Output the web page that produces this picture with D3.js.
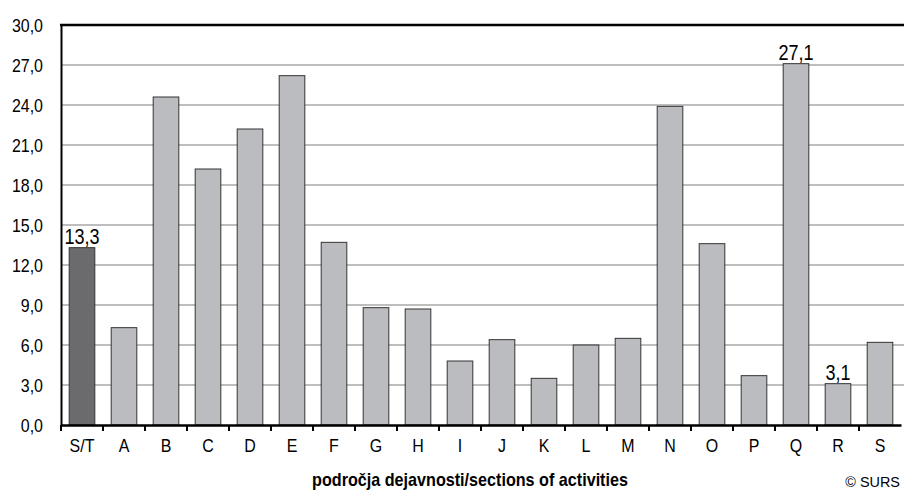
<!DOCTYPE html>
<html>
<head>
<meta charset="utf-8">
<script src="https://cdn.jsdelivr.net/npm/d3@7"></script>
<style>
  body { margin: 0; background: #fff; }
  svg { display: block; }
  text { font-family: "Liberation Sans", Arial, sans-serif; }
</style>
</head>
<body>
<svg id="chart" width="904" height="491"></svg>
<script>
const categories = ["S/T","A","B","C","D","E","F","G","H","I","J","K","L","M","N","O","P","Q","R","S"];
const values = [13.3, 7.3, 24.6, 19.2, 22.2, 26.2, 13.7, 8.8, 8.7, 4.8, 6.4, 3.5, 6.0, 6.5, 23.9, 13.6, 3.7, 27.1, 3.1, 6.2];
const labelled = ["S/T", "Q", "R"];
const yTicks = [0, 3, 6, 9, 12, 15, 18, 21, 24, 27, 30];
const xTitle = "področja dejavnosti/sections of activities";
const credit = "© SURS";

const svg = d3.select("#chart");
const margin = {left: 61, right: 3, top: 25, bottom: 66};
const W = 904, H = 491;
const x = d3.scaleBand().domain(categories).range([margin.left, W - margin.right]).paddingInner(0.39).paddingOuter(0.195);
const xTick = d3.scaleBand().domain(categories).range([margin.left, W - margin.right]);
const y = d3.scaleLinear().domain([0, 30]).range([H - margin.bottom, margin.top]);
const fmt = v => d3.format(".1f")(v).replace(".", ",");

function condense(sel, f) {
  sel.each(function() {
    const len = this.getComputedTextLength();
    d3.select(this).attr("textLength", len * f).attr("lengthAdjust", "spacingAndGlyphs");
  });
}

// gridlines
svg.append("g").selectAll("line").data(yTicks.filter(t => t > 0 && t < 30)).join("line")
  .attr("x1", margin.left).attr("x2", W)
  .attr("y1", d => y(d)).attr("y2", d => y(d))
  .attr("stroke", "#a9a9a9").attr("stroke-width", 1.5);

// top border
svg.append("line").attr("x1", margin.left - 1).attr("x2", W)
  .attr("y1", y(30)).attr("y2", y(30)).attr("stroke", "#000").attr("stroke-width", 2.5);

// bars
svg.append("g").selectAll("rect").data(categories).join("rect")
  .attr("x", d => x(d)).attr("width", x.bandwidth())
  .attr("y", (d, i) => y(values[i])).attr("height", (d, i) => y(0) - y(values[i]))
  .attr("fill", (d, i) => i === 0 ? "#6b6b6d" : "#bbbcc0")
  .attr("stroke", "#333").attr("stroke-width", 1);

// value labels
const vl = svg.append("g").selectAll("text").data(categories.filter(c => labelled.includes(c))).join("text")
  .attr("x", d => x(d) + x.bandwidth() / 2)
  .attr("y", d => y(values[categories.indexOf(d)]) - 4)
  .attr("text-anchor", "middle").attr("font-size", 22).attr("fill", "#000")
  .text(d => fmt(values[categories.indexOf(d)]));
condense(vl, 0.82);

// y axis
const yAxis = d3.axisLeft(y).tickValues(yTicks).tickFormat(fmt).tickSize(0).tickPadding(18);
const gy = svg.append("g").attr("transform", `translate(${margin.left},0)`).call(yAxis);
gy.select(".domain").attr("stroke", "#000").attr("stroke-width", 2);
gy.selectAll("text").attr("font-size", 19).attr("fill", "#000")
  .style("font-family", '"Liberation Sans", Arial, sans-serif');
condense(gy.selectAll("text"), 0.84);

// x axis
const xAxis = d3.axisBottom(xTick).tickSize(0).tickPadding(14);
const gx = svg.append("g").attr("transform", `translate(0,${y(0)})`).call(xAxis);
gx.select(".domain").attr("stroke", "#000").attr("stroke-width", 2.5);
gx.selectAll("text").attr("font-size", 19).attr("fill", "#000")
  .style("font-family", '"Liberation Sans", Arial, sans-serif');
condense(gx.selectAll("text"), 0.84);
// tick marks at band boundaries
svg.append("g").selectAll("line").data(categories).join("line")
  .attr("x1", d => xTick(d)).attr("x2", d => xTick(d))
  .attr("y1", y(0)).attr("y2", y(0) + 6)
  .attr("stroke", "#000").attr("stroke-width", 2);

// x title
const tt = svg.append("text").attr("x", 470).attr("y", 486).attr("text-anchor", "middle")
  .attr("font-size", 19).attr("font-weight", "bold").attr("fill", "#000")
  .text(xTitle);
condense(tt, 0.85);

// credit
const cr = svg.append("text").attr("x", 900).attr("y", 487).attr("text-anchor", "end")
  .attr("font-size", 15).attr("fill", "#000").text(credit);
condense(cr, 0.96);
</script>
</body>
</html>
